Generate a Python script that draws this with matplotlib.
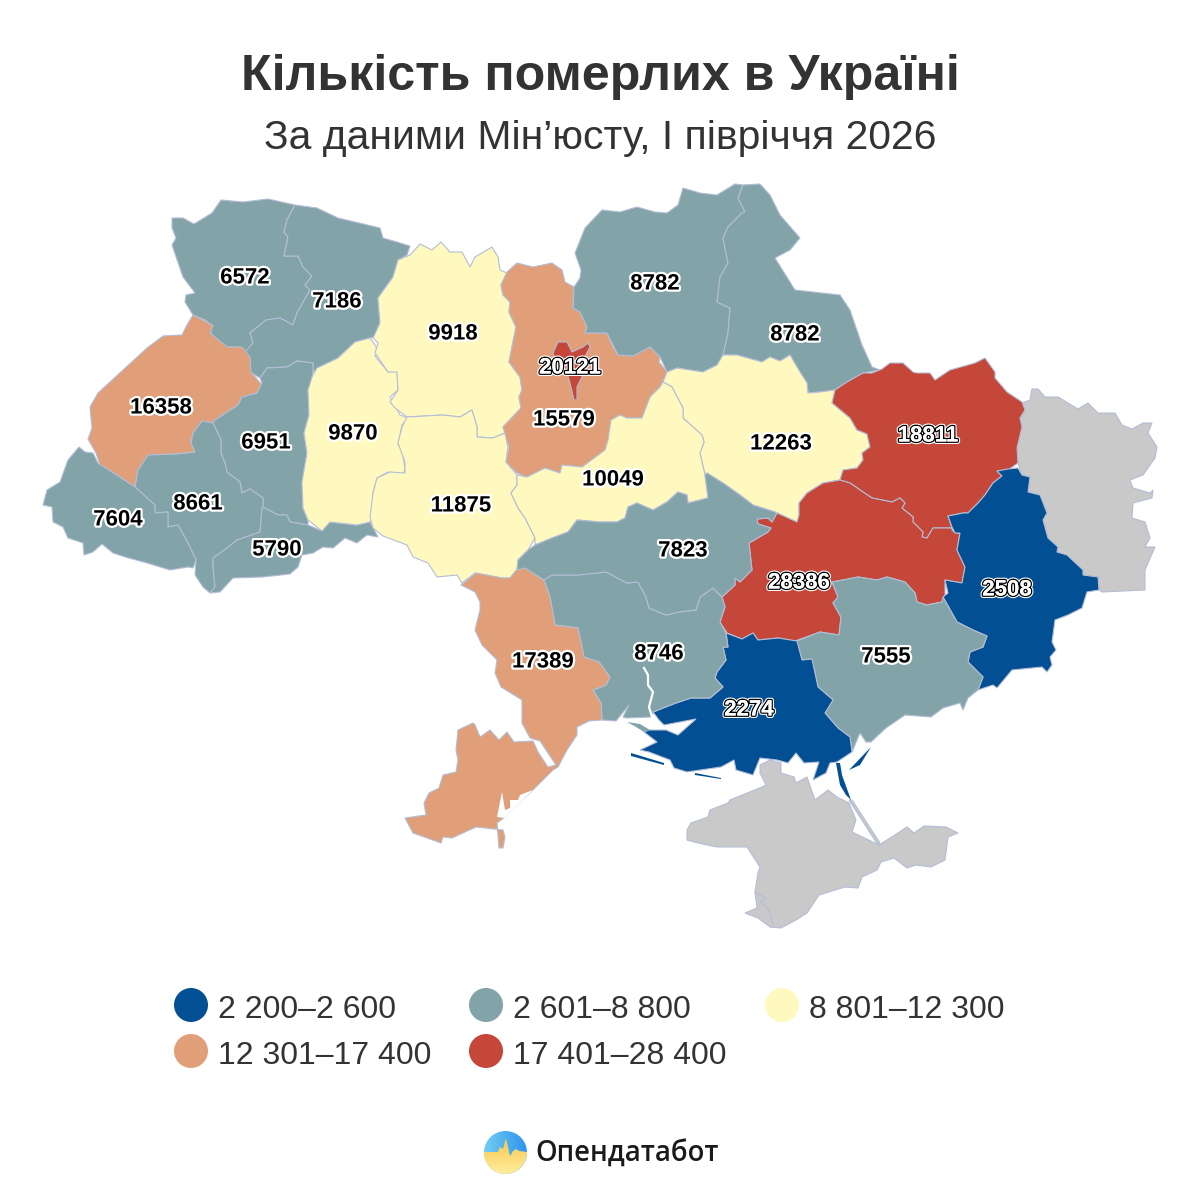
import numpy as np
import matplotlib
matplotlib.use("Agg")
from matplotlib import pyplot as plt
from matplotlib import patheffects as pe
from matplotlib.patches import Polygon, Circle

plt.rcParams['font.family'] = ['Liberation Sans', 'DejaVu Sans']

# values per region
names = ["Волинська", "Рівненська", "Львівська", "Тернопільська", "Івано-Франківська",
         "Закарпатська", "Чернівецька", "Хмельницька", "Житомирська", "Вінницька",
         "Київська", "м. Київ", "Чернігівська", "Сумська", "Полтавська", "Черкаська",
         "Харківська", "Дніпропетровська", "Донецька", "Запорізька", "Херсонська",
         "Миколаївська", "Одеська", "Кіровоградська"]
values = [6572, 7186, 16358, 6951, 8661, 7604, 5790, 9870, 9918, 11875, 15579, 20121,
          8782, 8782, 12263, 10049, 18811, 28386, 2508, 7555, 2274, 8746, 17389, 7823]
label_xy = [(245, 278), (337, 302), (161, 408), (266, 443), (198, 504), (118, 520), (277, 550),
            (353, 434), (453, 334), (461, 506), (564, 420), (570, 368), (655, 284), (795, 335),
            (781, 444), (613, 480), (928, 436), (799, 583), (1007, 590), (886, 657), (749, 710),
            (659, 654), (543, 662), (683, 551)]
dark_labels = ["м. Київ", "Харківська", "Дніпропетровська", "Донецька", "Херсонська"]

# legend
bin_edges = [2600, 8800, 12300, 17400]
bin_colors = ["#024f93", "#82a4a8", "#fff9bf", "#e09f79", "#c4473a"]
bin_labels = ["2 200–2 600", "2 601–8 800", "8 801–12 300", "12 301–17 400", "17 401–28 400"]
legend_xy = [(191, 1005), (486, 1005), (782, 1005), (191, 1051), (486, 1051)]

# outlines
volyn = [(172,218),(183,218),(194,224),(212,213),(221,200),(243,202),(268,199),(295,205),(287,220),(284,232),(288,237),(284,256),(298,256),(303,267),(312,276),(305,285),(310,290),(297,313),(293,325),(280,318),(266,320),(250,333),(253,343),(247,352),(237,347),(227,347),(213,337),(210,330),(213,326),(205,320),(193,315),(185,302),(186,295),(195,293),(183,277),(172,245),(176,238),(172,228)]
rivne = [(295,205),(317,208),(338,218),(355,222),(380,228),(383,238),(397,242),(410,246),(407,255),(398,260),(393,277),(378,298),(380,323),(375,337),(370,338),(355,342),(338,358),(313,372),(313,363),(297,361),(287,367),(267,368),(260,378),(250,372),(245,352),(253,343),(250,333),(266,320),(280,318),(293,325),(297,313),(310,290),(305,285),(312,276),(303,267),(298,256),(284,256),(288,237),(284,232),(287,220)]
lviv = [(193,315),(205,321),(213,326),(210,333),(227,347),(242,347),(250,357),(251,372),(262,385),(257,393),(242,397),(238,405),(215,420),(213,423),(202,421),(193,433),(191,443),(195,452),(177,454),(148,455),(138,470),(135,487),(112,472),(100,465),(96,453),(88,439),(92,428),(90,407),(98,393),(123,370),(147,348),(163,336),(182,335),(187,325)]
ternopil = [(260,378),(267,368),(287,367),(297,361),(313,363),(313,372),(312,380),(308,390),(309,415),(304,433),(307,453),(302,482),(303,508),(308,520),(308,525),(290,522),(287,515),(278,515),(263,507),(263,498),(250,489),(242,493),(240,482),(227,472),(225,463),(221,453),(221,440),(213,423),(215,420),(238,405),(242,397),(257,393),(262,383)]
frankivsk = [(213,423),(221,440),(221,453),(225,463),(227,472),(240,482),(242,493),(250,489),(263,498),(263,507),(262,508),(260,532),(237,540),(227,548),(213,558),(213,567),(215,587),(210,593),(203,587),(195,575),(196,560),(188,543),(178,525),(168,527),(168,512),(155,513),(155,505),(135,487),(138,470),(148,455),(177,454),(195,452),(191,443),(193,433),(202,421)]
zakarpattia = [(135,487),(155,505),(155,513),(168,512),(168,527),(178,525),(188,543),(196,560),(193,568),(188,567),(170,570),(147,563),(125,557),(113,553),(102,544),(93,552),(84,555),(83,543),(68,538),(63,527),(53,522),(52,507),(43,505),(47,490),(60,482),(68,460),(79,447),(85,452),(93,453),(98,463),(112,472)]
chernivtsi = [(263,507),(278,515),(287,515),(290,522),(308,525),(322,531),(330,522),(357,525),(370,522),(378,537),(367,535),(357,543),(345,538),(333,548),(323,547),(313,553),(302,555),(298,567),(290,574),(263,577),(233,578),(220,592),(210,593),(215,587),(213,567),(213,558),(227,548),(237,540),(260,532),(262,508)]
khmelnytskyi = [(370,338),(375,345),(379,352),(375,356),(388,372),(397,370),(398,390),(390,397),(400,415),(408,418),(402,425),(398,445),(402,448),(405,470),(402,476),(388,472),(377,478),(373,493),(373,517),(370,522),(357,525),(330,522),(322,531),(308,520),(303,508),(302,482),(307,453),(304,433),(309,415),(308,390),(312,377),(317,368),(338,358),(355,342)]
zhytomyr = [(410,255),(420,244),(432,250),(441,242),(450,252),(462,252),(470,267),(475,257),(492,247),(498,257),(500,270),(507,273),(501,285),(503,295),(510,302),(509,312),(516,327),(510,357),(509,362),(520,377),(522,390),(519,397),(521,408),(503,427),(505,433),(493,438),(477,437),(477,427),(472,410),(460,417),(443,415),(407,417),(395,408),(390,402),(398,390),(397,372),(388,372),(375,353),(378,343),(373,338),(380,323),(378,298),(393,277),(398,260)]
vinnytsia = [(407,417),(443,415),(460,417),(472,410),(477,427),(477,437),(493,438),(505,433),(508,447),(506,462),(517,475),(517,485),(511,493),(518,508),(525,518),(535,538),(528,550),(518,560),(517,570),(510,578),(495,578),(485,577),(475,573),(462,583),(457,575),(437,577),(428,563),(413,557),(407,545),(383,536),(373,528),(370,517),(373,493),(377,478),(390,472),(405,473),(405,462),(398,443),(402,427)]
kyiv_obl = [(507,272),(517,263),(533,267),(552,263),(562,270),(565,282),(574,287),(573,308),(580,312),(587,327),(585,333),(607,333),(613,347),(618,355),(633,356),(650,347),(660,357),(659,362),(667,372),(660,387),(650,397),(642,418),(627,418),(620,415),(611,420),(608,440),(605,450),(582,467),(562,465),(560,473),(545,468),(527,477),(517,473),(506,462),(509,447),(503,427),(521,408),(519,397),(522,390),(520,377),(509,362),(510,357),(516,327),(509,312),(510,302),(503,295),(501,285)]
kyiv_city = [(558,342),(567,342),(572,352),(583,347),(588,343),(590,347),(583,360),(582,377),(577,387),(577,400),(574,400),(570,383),(567,373),(557,367),(553,353)]
chernihiv = [(743,185),(735,184),(717,195),(700,193),(683,188),(678,205),(667,213),(655,212),(637,207),(620,212),(602,210),(585,228),(575,253),(581,270),(580,278),(574,287),(573,308),(580,312),(587,327),(585,333),(607,333),(618,355),(633,356),(650,347),(660,357),(667,372),(677,368),(703,372),(717,365),(723,355),(728,333),(730,308),(717,302),(720,277),(728,263),(723,238),(728,227),(742,213),(745,212),(738,198)]
sumy = [(743,185),(760,184),(770,195),(780,215),(800,238),(790,250),(775,258),(795,290),(840,295),(850,310),(862,345),(872,367),(880,370),(863,373),(847,382),(835,390),(820,392),(808,393),(807,383),(800,372),(790,355),(780,361),(770,357),(762,362),(737,355),(723,355),(728,333),(730,308),(717,302),(720,277),(728,263),(723,238),(728,227),(742,213),(745,212),(738,198)]
poltava = [(667,372),(677,368),(703,372),(717,365),(723,355),(737,355),(762,362),(770,357),(780,361),(790,355),(800,372),(807,383),(808,393),(820,392),(835,390),(832,403),(850,418),(857,430),(867,434),(870,447),(862,453),(863,460),(857,468),(843,470),(840,480),(823,483),(807,493),(799,503),(799,515),(797,522),(775,512),(753,505),(740,495),(723,483),(707,473),(705,475),(700,453),(704,442),(702,435),(683,418),(683,408),(672,387),(663,382)]
cherkasy = [(660,387),(663,382),(672,387),(683,408),(683,418),(702,435),(704,442),(700,453),(705,475),(708,498),(688,503),(687,495),(678,492),(667,502),(653,510),(637,503),(628,507),(625,518),(617,522),(600,522),(577,520),(568,532),(552,538),(535,545),(535,538),(525,518),(518,508),(511,493),(517,485),(517,475),(527,477),(545,468),(560,473),(562,465),(582,467),(605,450),(608,440),(611,420),(620,415),(627,418),(642,418),(650,397)]
kharkiv = [(882,369),(890,363),(903,363),(913,372),(917,373),(930,373),(935,380),(950,370),(975,363),(985,358),(995,372),(995,378),(1007,392),(1022,402),(1025,410),(1020,418),(1022,427),(1017,448),(1018,463),(1008,470),(997,471),(1002,476),(993,483),(985,495),(978,503),(968,513),(963,513),(948,516),(952,528),(933,528),(927,538),(922,537),(923,532),(913,522),(913,517),(902,508),(905,503),(900,498),(892,502),(872,498),(863,492),(850,483),(840,480),(843,470),(857,468),(863,460),(862,453),(870,447),(867,434),(857,430),(850,418),(832,403),(835,390),(847,382),(863,373),(872,373)]
dnipro = [(840,480),(850,483),(863,492),(872,498),(892,502),(900,498),(905,503),(902,508),(913,517),(913,522),(923,532),(922,537),(927,538),(933,528),(952,528),(952,530),(955,533),(960,533),(957,550),(965,567),(962,583),(945,580),(945,595),(942,602),(927,605),(917,602),(915,593),(905,582),(887,577),(877,580),(858,577),(843,580),(832,582),(838,597),(833,603),(841,617),(839,635),(820,632),(795,641),(778,638),(758,640),(753,633),(742,639),(727,633),(720,622),(725,607),(722,597),(735,585),(735,578),(740,582),(752,570),(749,543),(768,532),(771,528),(758,524),(757,519),(768,518),(772,522),(777,513),(797,522),(799,515),(799,503),(807,493),(823,483)]
donetsk = [(997,471),(1008,469),(1018,468),(1022,475),(1030,477),(1028,492),(1040,495),(1047,513),(1043,520),(1048,538),(1058,547),(1057,552),(1067,555),(1083,570),(1083,575),(1098,577),(1099,590),(1087,592),(1082,608),(1068,615),(1055,620),(1052,642),(1056,650),(1050,657),(1052,665),(1047,672),(1042,667),(1012,670),(997,688),(993,685),(978,690),(983,677),(968,662),(970,652),(983,647),(987,636),(973,630),(957,622),(943,597),(948,593),(945,580),(962,583),(965,567),(957,550),(960,533),(955,533),(952,527),(948,516),(963,513),(968,513),(978,503),(985,495),(993,483),(1002,476)]
luhansk = [(1022,403),(1030,400),(1032,389),(1038,389),(1045,397),(1058,397),(1078,409),(1088,403),(1098,413),(1115,413),(1122,425),(1132,429),(1143,423),(1152,423),(1148,433),(1157,447),(1155,458),(1143,475),(1130,480),(1133,488),(1150,493),(1153,490),(1152,498),(1133,503),(1132,518),(1145,522),(1150,538),(1145,547),(1155,547),(1145,570),(1145,590),(1102,592),(1099,590),(1098,577),(1083,575),(1083,570),(1067,555),(1057,552),(1058,547),(1048,538),(1043,520),(1047,513),(1040,495),(1028,492),(1030,477),(1022,475),(1018,463),(1017,448),(1022,427),(1020,418),(1025,410)]
zaporizhzhia = [(832,582),(843,580),(858,577),(877,580),(887,577),(905,582),(915,593),(917,602),(927,605),(942,602),(943,597),(957,622),(973,630),(987,636),(983,647),(970,652),(968,662),(983,677),(978,690),(968,698),(963,710),(960,703),(943,708),(931,717),(905,715),(886,728),(871,742),(866,742),(860,733),(852,752),(850,737),(838,728),(825,713),(833,700),(818,687),(812,659),(802,660),(797,641),(820,632),(839,635),(841,617),(833,603),(838,597)]
kherson = [(726,633),(742,639),(753,633),(758,640),(778,638),(797,641),(802,660),(812,659),(818,687),(833,700),(825,713),(838,728),(850,737),(852,752),(837,762),(830,763),(826,773),(813,780),(819,762),(804,763),(796,753),(788,763),(777,760),(760,758),(753,775),(736,770),(734,760),(721,767),(687,772),(674,768),(670,760),(649,752),(640,750),(657,742),(644,732),(649,730),(666,730),(678,735),(696,719),(664,725),(659,720),(653,712),(676,703),(691,698),(710,698),(723,687),(715,678),(717,672),(726,660),(723,647),(728,647)]
mykolaiv = [(544,580),(552,575),(578,575),(606,572),(627,583),(638,582),(646,597),(649,608),(666,615),(679,612),(696,610),(700,597),(713,588),(722,597),(725,607),(720,622),(726,633),(728,647),(723,647),(726,660),(717,672),(715,678),(723,687),(710,698),(691,698),(676,703),(653,712),(652,717),(626,718),(623,717),(629,705),(616,721),(602,720),(601,703),(593,690),(606,685),(610,677),(599,662),(584,657),(578,628),(555,625),(550,597)]
odesa = [(461,585),(476,573),(503,578),(510,578),(518,568),(525,568),(544,580),(550,597),(555,625),(578,628),(584,657),(599,662),(610,677),(606,685),(593,690),(601,703),(602,720),(589,721),(577,727),(577,735),(567,750),(558,767),(553,770),(533,790),(510,811),(507,815),(505,817),(497,823),(499,848),(503,848),(505,837),(503,830),(476,827),(452,838),(443,837),(441,843),(413,833),(405,818),(426,815),(424,803),(429,793),(439,788),(443,775),(456,772),(458,760),(456,750),(458,730),(473,723),(475,725),(480,737),(490,730),(499,740),(507,732),(514,742),(533,741),(538,752),(548,767),(556,765),(546,750),(540,741),(530,738),(522,723),(522,700),(501,687),(495,673),(497,660),(482,645),(475,630),(480,610),(480,602),(475,592)]
odesa_notch = [(497,817),(502,792),(505,810),(510,808),(510,800),(518,800),(520,795),(525,793),(533,790),(510,812),(505,818)]
kirovohrad = [(535,545),(552,538),(568,532),(577,520),(600,522),(617,522),(625,518),(628,507),(637,503),(653,510),(667,502),(678,492),(687,495),(688,503),(708,498),(705,475),(707,473),(723,483),(740,495),(753,505),(775,512),(777,513),(772,522),(768,518),(757,519),(758,524),(771,528),(768,532),(749,543),(752,570),(740,582),(735,578),(735,585),(722,597),(713,588),(700,597),(696,610),(679,612),(666,615),(649,608),(646,597),(638,582),(627,583),(606,572),(578,575),(552,575),(544,580),(525,568),(517,570),(518,560),(528,550)]
crimea = [(760,765),(770,760),(781,763),(781,773),(794,777),(796,783),(807,777),(815,800),(828,790),(837,797),(849,803),(856,820),(852,832),(879,845),(898,833),(907,827),(914,833),(924,826),(946,827),(958,833),(948,837),(945,860),(931,867),(916,865),(907,868),(894,858),(881,862),(877,870),(862,877),(858,888),(845,887),(819,895),(807,913),(796,920),(781,928),(770,927),(758,918),(745,913),(757,908),(755,892),(758,873),(760,867),(747,847),(717,847),(698,843),(687,840),(687,830),(691,823),(708,817),(710,810),(728,803),(730,800),(762,787),(766,785),(760,773)]
sevastopol_line = [(755,892),(766,898),(760,902),(769,910),(773,925)]
arabat_strip = [(836,763),(840,763),(842,775),(851,800),(846,795),(840,785)]
arabat_grey = [(849,800),(852,800),(880,843),(878,845)]
kherson_slivers = [[(631,753),(664,763),(664,765),(631,756)], [(695,773),(721,778),(721,779),(695,775)], [(849,770),(871,747),(860,765)]]
mykolaiv_patch = [(627,722),(636,727),(644,732),(650,730),(640,724)]
bug_river = [(644,668),(648,675),(648,685),(653,692),(649,707),(653,720)]

outlines = [volyn, rivne, lviv, ternopil, frankivsk, zakarpattia, chernivtsi, khmelnytskyi,
            zhytomyr, vinnytsia, kyiv_obl, kyiv_city, chernihiv, sumy, poltava, cherkasy,
            kharkiv, dnipro, donetsk, zaporizhzhia, kherson, mykolaiv, odesa, kirovohrad]

edge = "#b4bdd6"
grey = "#c9c9c9"

fig = plt.figure(figsize=(12, 12), dpi=100)
ax = fig.add_axes([0, 0, 1, 1])
ax.set_xlim(0, 1200)
ax.set_ylim(1200, 0)
ax.axis("off")

for shape in [luhansk, crimea, arabat_grey]:
    ax.add_patch(Polygon(shape, closed=True, fc=grey, ec=edge, lw=0.8, zorder=1))
ax.plot(*zip(*sevastopol_line), color=edge, lw=0.8, zorder=2)

for name, val, shape in zip(names, values, outlines):
    col = bin_colors[np.digitize(val, bin_edges, right=True)]
    ax.add_patch(Polygon(shape, closed=True, fc=col, ec=edge, lw=0.8,
                         zorder=3 if name != "м. Київ" else 4))

ax.add_patch(Polygon(odesa_notch, closed=True, fc="white", ec="none", zorder=4))
ax.add_patch(Polygon(mykolaiv_patch, closed=True, fc=bin_colors[1], ec="none", zorder=3))
ax.add_patch(Polygon(arabat_strip, closed=True, fc=bin_colors[0], ec="none", zorder=3))
for s in kherson_slivers:
    ax.add_patch(Polygon(s, closed=True, fc=bin_colors[0], ec="none", zorder=3))
ax.plot(*zip(*bug_river), color="white", lw=1.6, zorder=4)

# value labels
for name, val, (x, y) in zip(names, values, label_xy):
    if name in dark_labels:
        ax.text(x, y, str(val), ha="center", va="center", fontsize=16, fontweight="bold",
                color="white", zorder=6,
                path_effects=[pe.withStroke(linewidth=3.6, foreground="white"),
                              pe.withStroke(linewidth=2, foreground="black"),
                              pe.Normal()])
    else:
        ax.text(x, y, str(val), ha="center", va="center", fontsize=16, fontweight="bold",
                color="black", zorder=6,
                path_effects=[pe.withStroke(linewidth=3.2, foreground="white")])

ax.text(600, 77, "Кількість померлих в Україні", ha="center", va="center",
        fontsize=36.1, fontweight="bold", color="#333333")
ax.text(600, 138, "За даними Мін’юсту, І півріччя 2026", ha="center", va="center",
        fontsize=29.4, color="#333333")

for col, lab, (x, y) in zip(bin_colors, bin_labels, legend_xy):
    ax.add_patch(Circle((x, y), 17, fc=col, ec="none"))
    ax.text(x + 27, y + 5, lab, ha="left", va="center", fontsize=23, color="#333333")

# logo: blue disc with the yellow pulse half clipped to the same circle
gx, gy = np.meshgrid(np.linspace(0, 1, 64), np.linspace(0, 1, 64))
img = np.zeros((64, 64, 3))
for i, (top_l, top_r) in enumerate(zip([0.45, 0.80, 0.95], [0.18, 0.58, 0.93])):
    img[..., i] = top_l + (top_r - top_l) * gx
im = ax.imshow(img, extent=(484, 527, 1174, 1131), aspect="auto", zorder=5)
im.set_clip_path(Circle((505.5, 1152.5), 21.5, transform=ax.transData))

low = np.zeros((64, 64, 3))
for i, (a, b) in enumerate(zip([0.96, 0.78, 0.30], [1.0, 0.93, 0.62])):
    low[..., i] = a + (b - a) * gy
arc = np.linspace(0, np.pi, 40)
pulse_x = np.r_[484, 498, 500, 503, 506, 510, 513, 516, 519, 527, 505.5 + 21.5 * np.cos(arc)]
pulse_y = np.r_[1152, 1152, 1147, 1149, 1138, 1156, 1151, 1149, 1151, 1152, 1152.5 + 21.5 * np.sin(arc)]
pulse = Polygon(np.c_[pulse_x, pulse_y], closed=True, transform=ax.transData)
im2 = ax.imshow(low, extent=(484, 527, 1174, 1138), aspect="auto", zorder=6)
im2.set_clip_path(pulse)
ax.set_xlim(0, 1200)
ax.set_ylim(1200, 0)

ax.text(535, 1153, "Опендатабот", ha="left", va="center", fontsize=19.8, fontweight="semibold",
        family=["Open Sans", "DejaVu Sans"], color="#1a1a1a")

fig.savefig("out.png", dpi=100, facecolor="white")
